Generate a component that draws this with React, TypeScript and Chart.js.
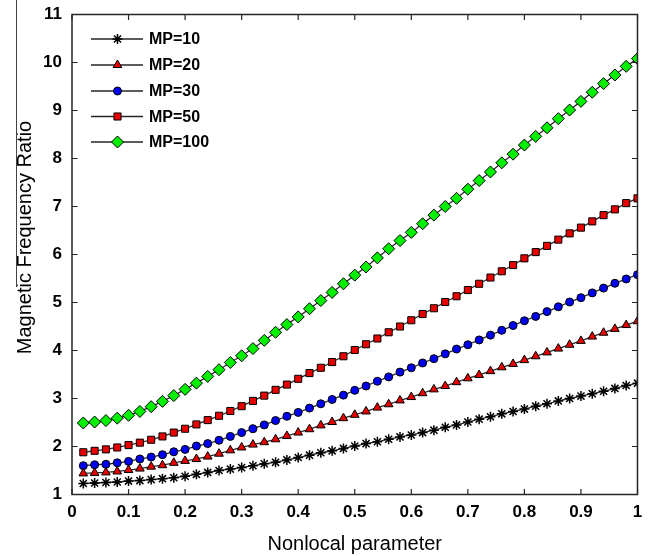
import React, { useEffect, useRef } from 'react';
import { Chart, registerables } from 'chart.js';
import { drawPoint } from 'chart.js/helpers';

Chart.register(...registerables);

const xValues = [
  0.02, 0.04, 0.06, 0.08, 0.10, 0.12, 0.14, 0.16, 0.18, 0.20,
  0.22, 0.24, 0.26, 0.28, 0.30, 0.32, 0.34, 0.36, 0.38, 0.40,
  0.42, 0.44, 0.46, 0.48, 0.50, 0.52, 0.54, 0.56, 0.58, 0.60,
  0.62, 0.64, 0.66, 0.68, 0.70, 0.72, 0.74, 0.76, 0.78, 0.80,
  0.82, 0.84, 0.86, 0.88, 0.90, 0.92, 0.94, 0.96, 0.98, 1.00,
];

const mp10 = [
  1.23, 1.24, 1.25, 1.26, 1.28, 1.29, 1.31, 1.33, 1.35, 1.38,
  1.42, 1.46, 1.50, 1.53, 1.56, 1.60, 1.64, 1.67, 1.72, 1.77,
  1.82, 1.87, 1.91, 1.96, 2.01, 2.06, 2.10, 2.15, 2.20, 2.24,
  2.29, 2.34, 2.40, 2.45, 2.51, 2.57, 2.62, 2.68, 2.73, 2.78,
  2.84, 2.89, 2.95, 3.00, 3.05, 3.10, 3.15, 3.21, 3.27, 3.32,
];

const mp20 = [
  1.44, 1.45, 1.46, 1.48, 1.51, 1.54, 1.58, 1.61, 1.66, 1.70,
  1.74, 1.79, 1.85, 1.92, 1.98, 2.04, 2.09, 2.15, 2.22, 2.29,
  2.36, 2.44, 2.51, 2.59, 2.66, 2.73, 2.81, 2.88, 2.96, 3.03,
  3.11, 3.19, 3.26, 3.34, 3.42, 3.49, 3.57, 3.65, 3.72, 3.80,
  3.88, 3.96, 4.04, 4.12, 4.20, 4.29, 4.37, 4.45, 4.53, 4.61,
];

const mp30 = [
  1.60, 1.62, 1.63, 1.66, 1.69, 1.74, 1.78, 1.83, 1.89, 1.94,
  2.01, 2.06, 2.13, 2.21, 2.29, 2.37, 2.45, 2.54, 2.63, 2.71,
  2.80, 2.89, 2.98, 3.07, 3.17, 3.26, 3.36, 3.45, 3.55, 3.64,
  3.74, 3.83, 3.93, 4.03, 4.12, 4.22, 4.32, 4.42, 4.52, 4.62,
  4.71, 4.81, 4.91, 5.01, 5.10, 5.20, 5.30, 5.40, 5.49, 5.58,
];

const mp50 = [
  1.88, 1.91, 1.94, 1.98, 2.03, 2.08, 2.14, 2.21, 2.29, 2.37,
  2.46, 2.55, 2.64, 2.74, 2.84, 2.95, 3.06, 3.18, 3.29, 3.41,
  3.53, 3.64, 3.76, 3.88, 4.01, 4.13, 4.25, 4.38, 4.50, 4.63,
  4.76, 4.88, 5.01, 5.13, 5.26, 5.39, 5.52, 5.65, 5.78, 5.92,
  6.05, 6.18, 6.31, 6.44, 6.56, 6.69, 6.82, 6.94, 7.07, 7.17,
];

const mp100 = [
  2.49, 2.51, 2.54, 2.59, 2.65, 2.73, 2.83, 2.94, 3.06, 3.19,
  3.32, 3.46, 3.60, 3.75, 3.89, 4.04, 4.21, 4.38, 4.54, 4.70,
  4.87, 5.04, 5.21, 5.39, 5.57, 5.74, 5.93, 6.12, 6.29, 6.46,
  6.64, 6.82, 7.00, 7.17, 7.36, 7.54, 7.72, 7.91, 8.09, 8.28,
  8.46, 8.64, 8.83, 9.01, 9.19, 9.38, 9.56, 9.74, 9.92, 10.08,
];

const seriesLabels = ['MP=10', 'MP=20', 'MP=30', 'MP=50', 'MP=100'];
const xTitle = 'Nonlocal parameter';
const yTitle = 'Magnetic Frequency Ratio';

const TICK_FONT = '"Liberation Sans", Arial, sans-serif';
const TITLE_FONT = '"Liberation Sans", Arial, sans-serif';

const styles = [
  { pointStyle: 'star', bg: '#000000', radius: 5, bw: 1.5 },
  { pointStyle: 'triangle', bg: '#e80000', radius: 5, bw: 1 },
  { pointStyle: 'circle', bg: '#0000f0', radius: 4, bw: 1 },
  { pointStyle: 'rect', bg: '#e80000', radius: 5, bw: 1 },
  { pointStyle: 'rectRot', bg: '#00f000', radius: 6, bw: 1 },
];

const framePlugin = {
  id: 'matlabFrame',
  afterDatasetsDraw(chart: any) {
    const { ctx, chartArea } = chart;
    const { left, right, top, bottom } = chartArea;
    const xs = chart.scales.x;
    const ys = chart.scales.y;
    ctx.save();
    ctx.strokeStyle = '#262626';
    ctx.lineWidth = 1.5;
    ctx.strokeRect(left, top, right - left, bottom - top);
    ctx.lineWidth = 1.2;
    ctx.beginPath();
    xs.ticks.forEach((t: any) => {
      const px = xs.getPixelForValue(t.value);
      ctx.moveTo(px, bottom);
      ctx.lineTo(px, bottom - 5.5);
      ctx.moveTo(px, top);
      ctx.lineTo(px, top + 5.5);
    });
    ys.ticks.forEach((t: any) => {
      const py = ys.getPixelForValue(t.value);
      ctx.moveTo(left, py);
      ctx.lineTo(left + 5.5, py);
      ctx.moveTo(right, py);
      ctx.lineTo(right - 5.5, py);
    });
    ctx.stroke();
    ctx.restore();
  },
  afterDraw(chart: any) {
    const { ctx, chartArea } = chart;
    ctx.save();
    ctx.fillStyle = '#000';
    ctx.font = `20px ${TITLE_FONT}`;
    ctx.textAlign = 'center';
    ctx.textBaseline = 'middle';
    ctx.translate(25, (chartArea.top + chartArea.bottom) / 2 - 17);
    ctx.rotate(-Math.PI / 2);
    ctx.fillText(yTitle, 0, 0);
    ctx.restore();

    ctx.save();
    ctx.strokeStyle = '#444';
    ctx.lineWidth = 1;
    ctx.beginPath();
    ctx.moveTo(16.5, 0);
    ctx.lineTo(16.5, 287);
    ctx.stroke();
    ctx.restore();

    const rows = [39, 65, 91, 116.5, 142];
    chart.data.datasets.forEach((ds: any, i: number) => {
      const y = rows[i];
      const st = styles[i];
      ctx.save();
      ctx.strokeStyle = '#262626';
      ctx.lineWidth = 1.4;
      ctx.beginPath();
      ctx.moveTo(91, y);
      ctx.lineTo(143, y);
      ctx.stroke();
      ctx.fillStyle = st.bg;
      ctx.strokeStyle = '#000';
      ctx.lineWidth = st.bw;
      drawPoint(ctx, { pointStyle: st.pointStyle, radius: st.radius, borderWidth: st.bw, rotation: 0 } as any, 117.5, y);
      ctx.fillStyle = '#000';
      ctx.font = `bold 16px ${TITLE_FONT}`;
      ctx.textAlign = 'left';
      ctx.textBaseline = 'middle';
      ctx.fillText(ds.label, 149, y + 1);
      ctx.restore();
    });
  },
};

export default function App() {
  const canvasRef = useRef<HTMLCanvasElement | null>(null);

  useEffect(() => {
    if (!canvasRef.current) return;
    const allSeries = [mp10, mp20, mp30, mp50, mp100];
    const datasets = allSeries.map((vals, i) => ({
      label: seriesLabels[i],
      data: vals.map((v, j) => ({ x: xValues[j], y: v })),
      borderColor: '#2a2a2a',
      borderWidth: 1.3,
      pointStyle: styles[i].pointStyle as any,
      pointRadius: styles[i].radius,
      pointBackgroundColor: styles[i].bg,
      pointBorderColor: '#000',
      pointBorderWidth: styles[i].bw,
      tension: 0,
      fill: false,
    }));

    const chart = new Chart(canvasRef.current, {
      type: 'line',
      data: { datasets },
      options: {
        animation: false,
        responsive: false,
        layout: { padding: { top: 14.5, right: 13.5, left: 0, bottom: 0 } },
        plugins: { legend: { display: false }, tooltip: { enabled: false } },
        scales: {
          x: {
            type: 'linear',
            min: 0,
            max: 1,
            grid: { display: false, drawTicks: false },
            border: { display: false },
            ticks: {
              stepSize: 0.1,
              padding: 8,
              color: '#000',
              font: { family: TICK_FONT, size: 17, weight: 'bold' },
              callback: (v: any) => String(Number(Number(v).toFixed(1))),
              maxRotation: 0,
              autoSkip: false,
            },
            title: {
              display: true,
              text: xTitle,
              color: '#000',
              font: { family: TITLE_FONT, size: 20 },
              padding: { top: 0, bottom: 0 },
            },
            afterFit: (s: any) => { s.height = 61.5; s.paddingRight = 5; s.paddingLeft = 5; },
          },
          y: {
            type: 'linear',
            min: 1,
            max: 11,
            grid: { display: false, drawTicks: false },
            border: { display: false },
            ticks: {
              stepSize: 1,
              padding: 10,
              color: '#000',
              font: { family: TICK_FONT, size: 17, weight: 'bold' },
              autoSkip: false,
            },
            afterFit: (s: any) => { s.width = 72; s.paddingTop = 5; s.paddingBottom = 5; },
          },
        },
      },
      plugins: [framePlugin],
    });
    return () => chart.destroy();
  }, []);

  return (
    <div style={{ position: 'absolute', left: 0, top: 0, width: 651, height: 556, background: '#fff' }}>
      <canvas ref={canvasRef} width={651} height={556} />
    </div>
  );
}
